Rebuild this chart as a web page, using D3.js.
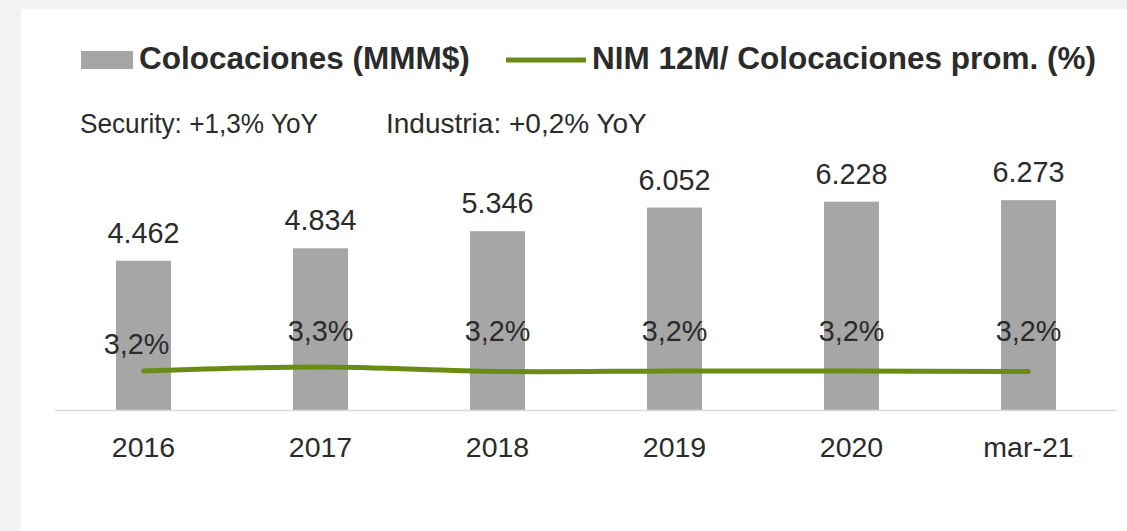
<!DOCTYPE html>
<html>
<head>
<meta charset="utf-8">
<script src="https://cdn.jsdelivr.net/npm/d3@7"></script>
<style>
  html, body { margin: 0; padding: 0; background: #f2f2f2; }
  svg { display: block; font-family: "Liberation Sans", Arial, sans-serif; }
</style>
</head>
<body>
<svg id="chart" width="1127" height="531"></svg>
<script>
// data
var categories = ["2016", "2017", "2018", "2019", "2020", "mar-21"]
var colocaciones = [4462, 4834, 5346, 6052, 6228, 6273]
var nim = [3.20, 3.28, 3.19, 3.20, 3.20, 3.19]
var nimLabels = ["3,2%", "3,3%", "3,2%", "3,2%", "3,2%", "3,2%"]
var legendNames = ["Colocaciones (MMM$)", "NIM 12M/ Colocaciones prom. (%)"]
var subtitle = ["Security: +1,3% YoY", "Industria: +0,2% YoY"]

var barColor = "#a6a6a6"
var lineColor = "#6a8c14"
var textColor = "#2b2b2b"

var svg = d3.select("#chart")
var width = +svg.attr("width")
var height = +svg.attr("height")

// panel background
svg.append("rect").attr("width", width).attr("height", height).attr("fill", "#f2f2f2")
svg.append("rect").attr("x", 21).attr("y", 9).attr("width", width - 21).attr("height", height - 9).attr("fill", "#fff")

var margin = { left: 55, right: 10, axis: 410 }

var x = d3.scaleBand()
    .domain(categories)
    .range([margin.left, width - margin.right])
    .paddingInner(0.689)
    .paddingOuter(0.3445)

var y = d3.scaleLinear()
    .domain([0, 7000])
    .range([margin.axis, margin.axis - 7000 * 0.03345])

// secondary axis (hidden) for the NIM line
var y2 = d3.scaleLinear()
    .domain([2.44, 3.44])
    .range([margin.axis - 1, margin.axis - 51])

// bars
svg.append("g")
    .selectAll("rect")
    .data(colocaciones)
    .enter()
    .append("rect")
    .attr("x", (d, i) => x(categories[i]))
    .attr("y", d => y(d))
    .attr("width", x.bandwidth())
    .attr("height", d => y(0) - y(d))
    .attr("fill", barColor)

// bar value labels
svg.append("g")
    .selectAll("text")
    .data(colocaciones)
    .enter()
    .append("text")
    .attr("x", (d, i) => x(categories[i]) + x.bandwidth() / 2)
    .attr("y", d => y(d) - 18)
    .attr("text-anchor", "middle")
    .attr("font-size", 28.8)
    .attr("fill", textColor)
    .text(d => d3.format(",")(d).replace(/,/g, "."))

// x axis
var xAxis = svg.append("g")
    .attr("transform", `translate(0,${margin.axis + 0.5})`)
    .call(d3.axisBottom(x).tickSize(0).tickPadding(26))
xAxis.select(".domain").attr("stroke", "#d9d9d9").attr("stroke-width", 1.5)
    .attr("d", `M${margin.left},0H${width - margin.right}`)
xAxis.selectAll("text")
    .attr("font-size", 28.5)
    .attr("font-family", "'Liberation Sans', Arial, sans-serif")
    .attr("fill", textColor)

// NIM line
var line = d3.line()
    .x((d, i) => x(categories[i]) + x.bandwidth() / 2)
    .y(d => y2(d))
    .curve(d3.curveCardinal)

svg.append("path")
    .datum(nim)
    .attr("d", line)
    .attr("fill", "none")
    .attr("stroke", lineColor)
    .attr("stroke-width", 5)
    .attr("stroke-linecap", "round")

// NIM labels, the first one sits a little lower and to the left
svg.append("g")
    .selectAll("text")
    .data(nim)
    .enter()
    .append("text")
    .attr("x", (d, i) => x(categories[i]) + x.bandwidth() / 2 + (i === 0 ? -7 : 0))
    .attr("y", (d, i) => i === 0 ? y2(d) - 17 : 341)
    .attr("text-anchor", "middle")
    .attr("font-size", 28.8)
    .attr("fill", textColor)
    .text((d, i) => nimLabels[i])

// legend
var legend = svg.append("g").attr("font-weight", "bold").attr("font-size", 31.5).attr("fill", textColor)
legend.append("rect").attr("x", 81).attr("y", 51).attr("width", 52).attr("height", 18).attr("fill", barColor)
legend.append("text").attr("x", 139).attr("y", 69).text(legendNames[0])
legend.append("line").attr("x1", 506).attr("x2", 586).attr("y1", 60).attr("y2", 60)
    .attr("stroke", lineColor).attr("stroke-width", 5)
legend.append("text").attr("x", 592).attr("y", 69).text(legendNames[1])

// subtitle (the first one is squeezed a bit in the original)
svg.append("g")
    .selectAll("text")
    .data(subtitle)
    .enter()
    .append("text")
    .attr("x", (d, i) => i === 0 ? 80 : 386)
    .attr("y", 133)
    .attr("font-size", 28)
    .attr("fill", textColor)
    .each(function (d, i) {
        if (i === 0) d3.select(this).attr("textLength", 238).attr("lengthAdjust", "spacingAndGlyphs")
    })
    .text(d => d)
</script>
</body>
</html>
